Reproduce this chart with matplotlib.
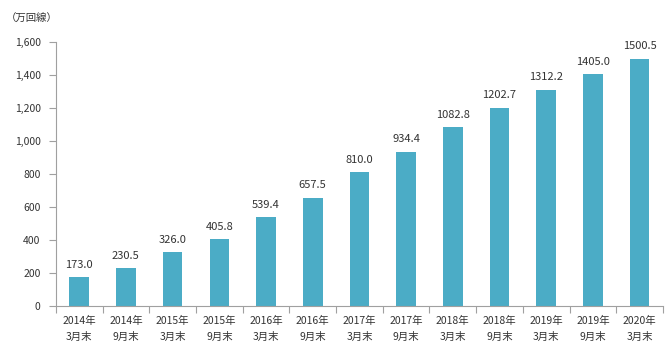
import numpy as np
import matplotlib
matplotlib.use("Agg")
import matplotlib.pyplot as plt
from matplotlib.ticker import FuncFormatter

plt.rcParams['font.family'] = ['Noto Sans CJK JP', 'DejaVu Sans']

# Category labels (year / month end) and values in 10k lines
years = ["2014年", "2014年", "2015年", "2015年", "2016年", "2016年", "2017年",
         "2017年", "2018年", "2018年", "2019年", "2019年", "2020年"]
months = ["3月末", "9月末", "3月末", "9月末", "3月末", "9月末", "3月末",
          "9月末", "3月末", "9月末", "3月末", "9月末", "3月末"]
values = [173.0, 230.5, 326.0, 405.8, 539.4, 657.5, 810.0,
          934.4, 1082.8, 1202.7, 1312.2, 1405.0, 1500.5]
y_ticks = [0, 200, 400, 600, 800, 1000, 1200, 1400, 1600]


def main():
    fig = plt.figure(figsize=(6.65, 3.63), dpi=100)
    ax = fig.add_axes([0.084, 0.157, 0.913, 0.727])

    x = np.arange(len(values))
    ax.bar(x, values, width=0.42, color="#4BACC6")

    # Value labels above bars
    for xi, v in zip(x, values):
        ax.text(xi, v + 45, f"{v:.1f}", ha="center", va="bottom",
                fontsize=8, color="#333333")

    ax.set_xlim(-0.5, len(values) - 0.5)
    ax.set_ylim(0, 1600)
    ax.set_yticks(y_ticks)
    ax.yaxis.set_major_formatter(FuncFormatter(lambda v, p: f"{int(v):,}"))

    # Category labels, ticks sit between categories
    ax.set_xticks(np.arange(-0.5, len(values)), minor=False)
    ax.set_xticklabels([])
    ax.set_xticks(x, minor=True)
    ax.set_xticklabels([f"{y}\n{m}" for y, m in zip(years, months)],
                       minor=True, fontsize=7.5, color="#333333",
                       linespacing=1.8)
    ax.tick_params(axis="x", which="minor", length=0, pad=7)
    ax.tick_params(axis="x", which="major", length=5, color="#A0A0A0",
                   direction="out")
    ax.tick_params(axis="y", length=5, color="#A0A0A0", labelsize=7.5,
                   labelcolor="#333333", pad=6)

    for side in ["top", "right"]:
        ax.spines[side].set_visible(False)
    for side in ["left", "bottom"]:
        ax.spines[side].set_color("#A0A0A0")
        ax.spines[side].set_linewidth(0.8)

    fig.text(0.008, 0.948, "（万回線）", fontsize=7.5, color="#333333",
             ha="left", va="center")

    fig.savefig("out.png", dpi=100)


if __name__ == "__main__":
    main()
